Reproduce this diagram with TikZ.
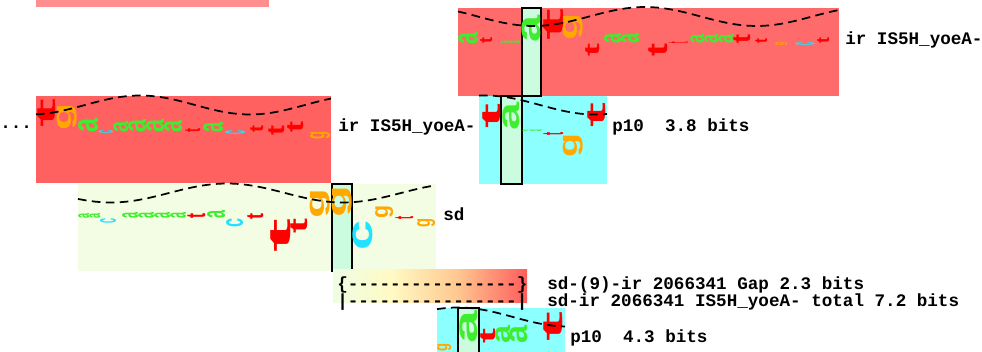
\documentclass[tikz,border=0pt]{standalone}
\usepackage{fontspec}
\setmonofont{Liberation Mono}
\setsansfont{Liberation Sans}
\usetikzlibrary{calc}

\definecolor{barpink}{HTML}{FF8F8F}
\definecolor{irred}{HTML}{FF6B6B}
\definecolor{irdark}{HTML}{FF6060}
\definecolor{pcyan}{HTML}{8CFFFF}
\definecolor{sdgreen}{HTML}{F2FDE4}
\definecolor{colmint}{HTML}{CCFCE0}
\definecolor{gred}{HTML}{FF0000}
\definecolor{ggreen}{HTML}{3EEE2E}
\definecolor{gorange}{HTML}{FFA800}
\definecolor{gcyan}{HTML}{22E2FF}
\definecolor{gapA}{HTML}{F0FDE0}
\definecolor{gapY}{HTML}{FFFAC4}
\definecolor{gapO}{HTML}{FFC890}
\definecolor{gapC}{HTML}{FF5C5C}
\pgfdeclarehorizontalshading{gapshade}{100bp}{color(0bp)=(gapA); color(27bp)=(gapA);
  color(40bp)=(gapY); color(57bp)=(gapO); color(75bp)=(gapC); color(100bp)=(gapC)}

\newdimen\pxu \pxu=0.75pt
\newcounter{glyphno}
% a turned letter squeezed into a box: x, top, width, height, letter, colour
\newcommand\glyph[6]{%
  \stepcounter{glyphno}%
  \node[inner sep=0, anchor=north west, text=#6] (g\arabic{glyphno}) at (#1, #2)
    {\resizebox*{#3\pxu}{#4\pxu}{\rotatebox{90}{\sffamily\bfseries #5}}};
}
\newcommand\logobox[5]{%
  \fill[#5] (#1, #2) rectangle +(#3, #4)
}
\newcommand\colbox[4]{%
  \draw[line width=0.9pt, fill=colmint] (#1, #2) rectangle +(#3, #4)
}
\newcommand\wave[5]{%
  \draw[line width=1.3pt, dash pattern=on 6.5pt off 4pt]
    plot[domain=#1:#2, samples=60] (\x, {#3 - 9.5*cos((\x-#4)/#5*360)})
}

\begin{document}
\begin{tikzpicture}[x=0.75pt, y=-0.75pt,
    lbl/.style={font=\ttfamily\bfseries\fontsize{13.2}{15}\selectfont, inner sep=0, anchor=west}]
        \useasboundingbox (0, 0) rectangle (982, 352);

        % The blocks
        \logobox{36}{0}{233}{7}{barpink};
        \logobox{458}{8}{381}{88}{irred};
        \logobox{36}{96}{295}{87}{irdark};
        \logobox{479}{96}{128}{88}{pcyan};
        \logobox{78}{184}{358}{87}{sdgreen};
        \logobox{437}{308}{128}{88}{pcyan};

        % The columns
        \colbox{522}{8}{19}{88};
        \colbox{501}{96}{21}{88};
        \colbox{332}{184}{20}{87};
        \colbox{458}{308}{21}{88};

        % Top row: ir
        \glyph{458}{32}{20}{12}{a}{ggreen}
        \glyph{480}{37}{12}{6}{t}{gred}
        \glyph{500}{41}{10}{2.5}{a}{ggreen}
        \glyph{510}{41}{10}{2.5}{a}{ggreen}
        \glyph{522}{15}{19}{27}{a}{ggreen}
        \glyph{543}{8}{20}{32}{t}{gred}
        \glyph{563}{13}{20}{27}{g}{gorange}
        \glyph{585}{43}{14}{13}{t}{gred}
        \glyph{604}{33}{17}{10}{a}{ggreen}
        \glyph{621}{33}{18}{10}{a}{ggreen}
        \glyph{648}{43}{19}{13}{t}{gred}
        \glyph{668}{41.5}{20}{1.5}{t}{gred}
        \glyph{690}{34}{14}{9}{a}{ggreen}
        \glyph{704}{34}{14}{9}{a}{ggreen}
        \glyph{718}{34}{15}{9}{a}{ggreen}
        \glyph{733}{34}{17}{9}{t}{gred}
        \glyph{755}{38}{12}{5}{t}{gred}
        \glyph{775}{42}{12}{3}{g}{gorange}
        \glyph{795}{42}{20}{3}{c}{gcyan}
        \glyph{817}{37}{12}{6}{t}{gred}

        % Middle row: ir
        \glyph{37}{98}{18}{29}{t}{gred}
        \glyph{57}{103}{20}{27}{g}{gorange}
        \glyph{78}{118}{20}{14}{a}{ggreen}
        \glyph{98}{130}{15}{3}{c}{gcyan}
        \glyph{113}{121}{15}{11}{a}{ggreen}
        \glyph{128}{119}{18}{13}{a}{ggreen}
        \glyph{146}{119}{18}{13}{a}{ggreen}
        \glyph{164}{120}{18}{12}{a}{ggreen}
        \glyph{185}{128}{15}{4}{t}{gred}
        \glyph{203}{122}{20}{10}{a}{ggreen}
        \glyph{225}{130}{20}{4}{c}{gcyan}
        \glyph{250}{125}{13}{7}{t}{gred}
        \glyph{268}{125}{16}{10}{t}{gred}
        \glyph{287}{121}{16}{11}{t}{gred}
        \glyph{310}{131}{20}{8}{g}{gorange}

        % Middle row: p10
        \glyph{482}{103}{18}{25}{t}{gred}
        \glyph{503}{102}{17}{28}{a}{ggreen}
        \glyph{522}{129.5}{20}{1.5}{a}{ggreen}
        \glyph{543}{132}{20}{3}{t}{gred}
        \glyph{563}{133}{20}{24}{g}{gorange}
        \glyph{587}{102}{18}{25}{t}{gred}

        % Third row: sd
        \glyph{78}{213}{11}{5}{a}{ggreen}
        \glyph{89}{213}{11}{5}{a}{ggreen}
        \glyph{100}{218}{16}{5}{c}{gcyan}
        \glyph{122}{212}{16}{6}{a}{ggreen}
        \glyph{138}{212}{16}{6}{a}{ggreen}
        \glyph{154}{212}{16}{6}{a}{ggreen}
        \glyph{170}{212}{16}{6}{a}{ggreen}
        \glyph{187}{213}{18}{5}{t}{gred}
        \glyph{207}{210}{18}{8}{a}{ggreen}
        \glyph{226}{218}{17}{9}{c}{gcyan}
        \glyph{247}{213}{16}{6}{t}{gred}
        \glyph{270}{218}{20}{34}{t}{gred}
        \glyph{290}{218}{17}{15}{t}{gred}
        \glyph{310}{188}{20}{30}{g}{gorange}
        \glyph{332}{185}{20}{32}{g}{gorange}
        \glyph{353}{220}{20}{30}{c}{gcyan}
        \glyph{375}{205}{18}{13}{g}{gorange}
        \glyph{395}{216}{18}{3}{t}{gred}
        \glyph{417}{218}{18}{9}{g}{gorange}

        % Bottom row: p10
        \glyph{437}{343}{14}{8}{g}{gorange}
        \glyph{460}{310}{18}{33}{a}{ggreen}
        \glyph{480}{328}{15}{15}{t}{gred}
        \glyph{495}{325}{15}{18}{a}{ggreen}
        \glyph{510}{325}{18}{18}{a}{ggreen}
        \glyph{543}{311}{19}{30}{t}{gred}

        % The waves
        \wave{458}{839}{16.5}{645}{223};
        \wave{36}{331}{105}{140}{220};
        \wave{479}{607}{105}{485}{220};
        \wave{78}{436}{193}{227}{232};
        \wave{437}{565}{317}{458}{220};

        % Gap bar
        \shade[shading=gapshade] (333, 270) rectangle (527, 303);

        % The labels
        \node[lbl] (dots) at (0, 127) {...};
        \node[lbl] (irtop) at (845, 40) {ir IS5H\_yoeA-};
        \node[lbl] (irmid) at (338, 127) {ir IS5H\_yoeA-};
        \node[lbl] (ptop) at (612, 127) {p10\ \ 3.8 bits};
        \node[lbl] (sd) at (443, 214) {sd};
        \node[lbl] (gapdash) at (337, 285) {\{----------------\}};
        \node[lbl] (gaptxt) at (547, 285) {sd-(9)-ir 2066341 Gap 2.3 bits};
        \node[lbl] (totdash) at (337, 302) {|----------------|};
        \node[lbl] (tottxt) at (547, 302) {sd-ir 2066341 IS5H\_yoeA- total 7.2 bits};
        \node[lbl] (pbot) at (570, 338) {p10\ \ 4.3 bits};
    \end{tikzpicture}
\end{document}
